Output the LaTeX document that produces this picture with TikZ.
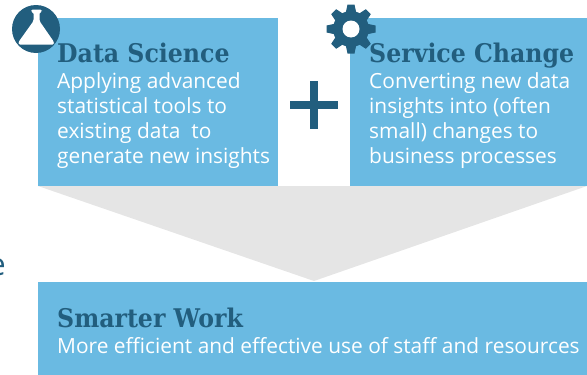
\documentclass[tikz,border=0pt]{standalone}
\usepackage{fontspec}
\setmainfont{Open Sans}
\newfontfamily\headfont{DejaVu Serif}[FakeStretch=0.92]
\definecolor{boxblue}{HTML}{6ABAE2}
\definecolor{darkblue}{HTML}{225E7E}
\definecolor{funnelgrey}{HTML}{E5E5E5}
\tikzset{
  panel/.style={fill=boxblue,draw=none,inner sep=0pt,outer sep=0pt,anchor=north west},
  headtext/.style={text=darkblue,inner sep=0pt,anchor=base west,font=\headfont\bfseries\fontsize{25.7}{27}\selectfont},
  bodytext/.style={text=white,inner sep=0pt,anchor=base west,font=\fontsize{20.9}{25}\selectfont,align=left},
}
\begin{document}
\begin{tikzpicture}[x=1pt,y=-1pt]
\useasboundingbox (0,0) rectangle (587,375);
\clip (0,0) rectangle (587,375);
\fill[funnelgrey] (38,186) -- (587,186) -- (314,281) -- cycle;
\node[panel,minimum width=240pt,minimum height=168pt] (ds) at (38,18) {};
\node[panel,minimum width=237pt,minimum height=168pt] (sc) at (350,18) {};
\node[panel,minimum width=549pt,minimum height=93pt] (sw) at (38,282) {};
\node[headtext] (dsh) at (57,62) {Data Science};
\node[bodytext,anchor=north west] (dsb) at (57,72) {Applying advanced\\statistical tools to\\existing data\ \ to\\generate new insights};
\node[headtext] (sch) at (369,62) {Service Change};
\node[bodytext,anchor=north west] (scb) at (369,72) {Converting new data\\insights into (often\\small) changes to\\business processes};
\node[headtext] (swh) at (57,327) {Smarter Work};
\node[bodytext] (swb) at (57,353) {More efficient and effective use of staff and resources};
\node[text=darkblue,inner sep=0pt,anchor=base east,font=\fontsize{31}{33}\selectfont] (cut) at (6,275) {e};
% plus
\fill[darkblue] (310,81) rectangle (318,129);
\fill[darkblue] (290,101) rectangle (338,109);
% flask badge
\fill[darkblue] (36,29) circle (24);
\fill[white,rounded corners=1.5pt] (31,9.5) -- (42,9.5) -- (42,12) -- (39.5,12) -- (39.5,21) -- (54,42) -- (54,44.5) -- (18.5,44.5) -- (18.5,42) -- (33.5,21) -- (33.5,12) -- (31,12) -- cycle;
% gear
\foreach \a in {0,45,...,315} {
  \fill[darkblue,rotate around={\a:(351,29)}] (347.5,4.5) -- (354.5,4.5) -- (356.5,14) -- (345.5,14) -- cycle;
}
\fill[darkblue] (351,29) circle (18);
\fill[white] (351,29) circle (8.5);
\end{tikzpicture}
\end{document}
